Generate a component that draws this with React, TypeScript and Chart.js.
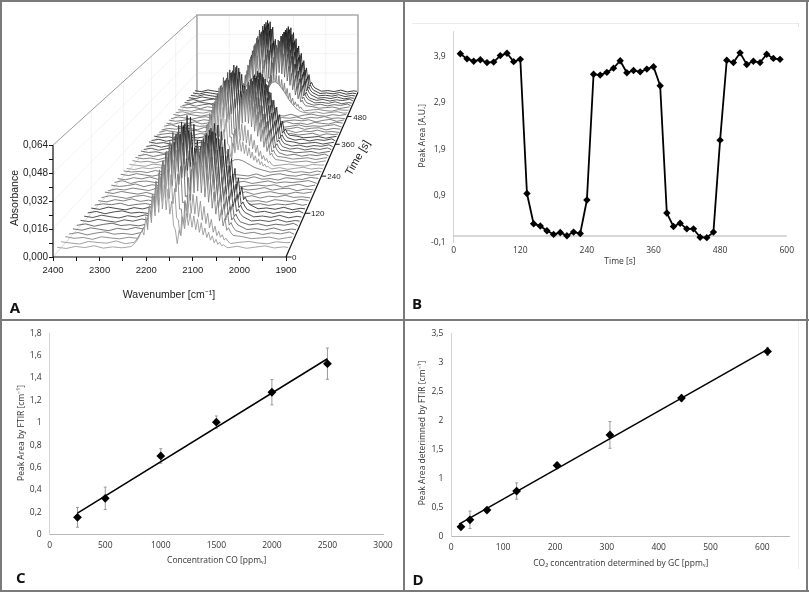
import React, { useEffect, useRef } from "react";
import { Chart, registerables } from "chart.js";
Chart.register(...registerables);

// ---------- Panel A: spectra (absorbance x 10^4) ----------
const wnLeft = [2400, 2380, 2360, 2340, 2320, 2300, 2280, 2260, 2240];
const wnRight = [2030, 2010, 1990, 1970, 1950, 1930, 1910, 1900];
const wnFlat = [2400, 2380, 2360, 2340, 2320, 2300, 2280, 2260, 2240, 2220, 2200, 2180, 2160, 2140, 2120, 2100, 2080, 2060, 2040, 2020, 2000, 1980, 1960, 1940, 1920, 1900];
const wnTeeth = [2216, 2212, 2208, 2204, 2200, 2196, 2192, 2188, 2184, 2180, 2176, 2172, 2168, 2164, 2160, 2156, 2152, 2148, 2144, 2140, 2136, 2132, 2128, 2124, 2120, 2116, 2112, 2108, 2104, 2100, 2096, 2092, 2088, 2084, 2080, 2076, 2072, 2068, 2064, 2060, 2056, 2052, 2048, 2044, 2040];
const wnFine = [...wnLeft, 2236, 2230, 2224, 2220, ...wnTeeth, 2036, ...wnRight];
const wnCoarse = [...wnLeft, 2226, 2214, 2204, 2194, 2184, 2174, 2164, 2154, 2148, 2143, 2138, 2130, 2120, 2110, 2100, 2090, 2080, 2070, 2060, 2050, 2040, ...wnRight];

const onA = [32, 24, 38, 29, 21, 35, 27, 40, 30, 60, 85, 120, 150,
  190, 170, 320, 200, 410, 255, 485, 315, 545, 355, 610, 385, 600, 375, 555, 335, 455, 225, 230, 70,
  280, 180, 430, 280, 530, 330, 560, 340, 550, 330, 510, 300, 460, 270, 400, 230, 340, 190, 280, 150, 220, 115, 165, 85, 100,
  75, 55, 28, 33, 25, 37, 22, 31, 27];
const onB = [27, 36, 22, 33, 40, 26, 31, 24, 36, 55, 80, 112, 140,
  180, 160, 305, 190, 390, 245, 460, 300, 515, 340, 575, 365, 570, 355, 525, 320, 430, 215, 215, 65,
  265, 170, 410, 265, 505, 315, 530, 325, 520, 315, 485, 285, 435, 255, 380, 220, 320, 180, 265, 140, 205, 110, 155, 80, 95,
  70, 48, 30, 37, 24, 34, 28, 39, 26];
const onC = [38, 28, 33, 22, 37, 30, 25, 34, 28, 50, 72, 100, 130,
  170, 150, 285, 180, 365, 225, 430, 280, 485, 315, 540, 340, 535, 335, 490, 300, 405, 200, 200, 60,
  250, 160, 385, 250, 475, 295, 500, 305, 490, 295, 455, 270, 410, 240, 355, 205, 300, 170, 250, 130, 195, 100, 145, 75, 90,
  65, 45, 38, 26, 30, 35, 23, 32, 36];
const front2 = [34, 27, 21, 36, 30, 26, 39, 23, 31, 45, 65, 90, 110,
  140, 110, 240, 150, 310, 195, 375, 245, 415, 270, 455, 290, 455, 285, 425, 255, 345, 175, 160, 55,
  180, 125, 260, 175, 310, 200, 310, 195, 300, 180, 270, 160, 240, 140, 200, 115, 165, 90, 125, 70, 95, 60, 75, 45, 55,
  37, 24, 31, 36, 27, 22, 34, 29, 30];
const front1 = [29, 22, 34, 27, 38, 24, 31, 26, 33, 42, 58, 80, 105,
  125, 100, 205, 130, 270, 170, 325, 210, 355, 230, 395, 250, 390, 245, 365, 220, 295, 155, 130, 50,
  125, 95, 195, 135, 225, 155, 225, 145, 210, 130, 190, 115, 170, 100, 140, 85, 115, 70, 95, 55, 75, 45, 58, 38, 44,
  34, 26, 35, 23, 30, 37, 25, 31, 28];

const p54 = [30, 37, 25, 33, 27, 38, 22, 31, 35, 45, 90, 170, 240, 285, 300, 280, 230, 150, 70, 140, 220, 265, 270, 250, 215, 175, 130, 95, 65, 45, 34, 27, 36, 24, 32, 38, 26, 30];
const p25 = [26, 34, 29, 38, 23, 31, 36, 25, 32, 40, 55, 85, 115, 135, 145, 135, 110, 80, 45, 75, 110, 130, 135, 125, 110, 90, 70, 55, 45, 38, 30, 35, 24, 33, 28, 37, 25, 31];
const p20 = [35, 28, 32, 24, 38, 27, 33, 22, 30, 35, 45, 70, 90, 105, 110, 105, 90, 65, 38, 65, 95, 110, 112, 105, 90, 75, 60, 50, 42, 35, 27, 33, 38, 25, 30, 22, 35, 28];
const p14 = [24, 33, 38, 26, 31, 22, 36, 29, 34, 33, 40, 55, 70, 80, 85, 80, 68, 50, 34, 50, 70, 82, 85, 78, 68, 58, 48, 42, 36, 32, 36, 25, 30, 38, 22, 34, 27, 33];

const flat1 = [30, 22, 36, 28, 41, 25, 33, 19, 35, 27, 40, 24, 31, 37, 22, 34, 28, 42, 26, 30, 20, 36, 29, 24, 38, 31];
const flat2 = [24, 37, 29, 20, 33, 39, 26, 34, 23, 38, 28, 31, 19, 35, 41, 25, 32, 27, 37, 22, 34, 29, 40, 26, 30, 23];
const flat3 = [36, 27, 40, 31, 23, 34, 20, 37, 29, 25, 33, 42, 28, 22, 36, 30, 24, 38, 21, 33, 39, 27, 23, 35, 28, 37];
const flat4 = [21, 32, 26, 38, 30, 22, 40, 28, 36, 24, 31, 20, 37, 29, 33, 23, 39, 26, 31, 41, 25, 34, 37, 21, 32, 27];
const flat5 = [33, 25, 31, 41, 24, 36, 29, 22, 38, 32, 21, 35, 27, 40, 26, 37, 22, 30, 34, 28, 36, 20, 31, 39, 24, 34];
const flat6 = [28, 39, 21, 34, 37, 27, 31, 38, 24, 30, 36, 26, 41, 23, 32, 28, 35, 21, 29, 38, 24, 31, 27, 33, 40, 22];

const traceTimes = [12, 24, 36, 48, 60, 72, 84, 96, 108, 120, 132, 144, 156, 168, 180, 192, 204, 216, 228, 240, 252, 264, 276, 288, 300, 312, 324, 336, 348, 360, 372, 384, 396, 408, 420, 432, 444, 456, 468, 480, 492, 504, 516, 528, 540, 552, 564, 576, 588];
const traceShapes = ["front1", "front2", "C", "B", "A", "B", "A", "A", "B", "A", "p25", "f1", "f2", "f3", "f4", "f5", "f6", "f1", "f3", "p20", "front1", "front2", "C", "C", "B", "C", "B", "B", "C", "B", "C", "p14", "f2", "f4", "f6", "f1", "f5", "f2", "f3", "p54", "front2", "C", "B", "A", "B", "A", "A", "A", "A"];
const traceGrays = ["#8e8e8e", "#888888", "#767676", "#646464", "#525252", "#424242", "#343434", "#262626", "#1e1e1e", "#181818", "#505050", "#5f5f5f", "#5f5f5f", "#5f5f5f", "#5f5f5f", "#5f5f5f", "#5f5f5f", "#5f5f5f", "#5f5f5f", "#666666", "#8e8e8e", "#888888", "#767676", "#646464", "#525252", "#444444", "#383838", "#2c2c2c", "#222222", "#1a1a1a", "#161616", "#5f5f5f", "#5f5f5f", "#5f5f5f", "#5f5f5f", "#5f5f5f", "#5f5f5f", "#5f5f5f", "#5f5f5f", "#777777", "#6e6e6e", "#5a5a5a", "#484848", "#363636", "#282828", "#1e1e1e", "#161616", "#101010", "#0c0c0c"];
const shapeTable: Record<string, [number[], number[]]> = {
  A: [wnFine, onA], B: [wnFine, onB], C: [wnFine, onC],
  front1: [wnFine, front1], front2: [wnFine, front2],
  p54: [wnCoarse, p54], p25: [wnCoarse, p25], p20: [wnCoarse, p20], p14: [wnCoarse, p14],
  f1: [wnFlat, flat1], f2: [wnFlat, flat2], f3: [wnFlat, flat3], f4: [wnFlat, flat4], f5: [wnFlat, flat5], f6: [wnFlat, flat6],
};
const aXTicks = [2400, 2350, 2300, 2250, 2200, 2150, 2100, 2050, 2000, 1950, 1900];
const aYTicks = [0, 0.008, 0.016, 0.024, 0.032, 0.04, 0.048, 0.056, 0.064];
const aTimeTicks = [0, 120, 240, 360, 480];
const aWallTimes = [120, 240, 360, 480];
const aWallLevels = [0.016, 0.032, 0.048];
const aWallWn = [2300, 2200, 2100, 2000];

// ---------- Panel B ----------
const bTime = [12, 24, 36, 48, 60, 72, 84, 96, 108, 120, 132, 144, 156, 168, 180, 192, 204, 216, 228, 240, 252, 264, 276, 288, 300, 312, 324, 336, 348, 360, 372, 384, 396, 408, 420, 432, 444, 456, 468, 480, 492, 504, 516, 528, 540, 552, 564, 576, 588];
const bArea = [3.96, 3.85, 3.8, 3.83, 3.77, 3.78, 3.92, 3.97, 3.79, 3.84, 0.95, 0.3, 0.25, 0.15, 0.07, 0.11, 0.04, 0.12, 0.09, 0.81, 3.52, 3.5, 3.56, 3.65, 3.81, 3.55, 3.6, 3.57, 3.63, 3.68, 3.27, 0.53, 0.24, 0.31, 0.19, 0.19, 0.01, 0.0, 0.12, 2.1, 3.82, 3.77, 3.98, 3.73, 3.8, 3.77, 3.95, 3.86, 3.84];
const bXTicks = [0, 120, 240, 360, 480, 600];
const bYTicks = [-0.1, 0.9, 1.9, 2.9, 3.9];

// ---------- Panel C ----------
const cConc = [250, 500, 1000, 1500, 2000, 2500];
const cArea = [0.155, 0.325, 0.703, 1.005, 1.272, 1.527];
const cErr = [0.088, 0.1, 0.065, 0.055, 0.113, 0.14];
const cFitX = [250, 2500];
const cFitY = [0.193, 1.571];
const cXTicks = [0, 500, 1000, 1500, 2000, 2500, 3000];
const cYTicks = [0, 0.2, 0.4, 0.6, 0.8, 1, 1.2, 1.4, 1.6, 1.8];

// ---------- Panel D ----------
const dConc = [18.6, 36, 68.8, 126, 204, 306, 444, 610];
const dArea = [0.17, 0.29, 0.457, 0.785, 1.225, 1.75, 2.383, 3.185];
const dErr = [0.03, 0.15, 0.04, 0.14, 0.05, 0.23, 0.05, 0.07];
const dFitX = [15, 610];
const dFitY = [0.215, 3.22];
const dXTicks = [0, 100, 200, 300, 400, 500, 600];
const dYTicks = [0, 0.5, 1, 1.5, 2, 2.5, 3, 3.5];

const comma = (v: number) => String(v).replace(".", ",");
const EXCEL_FONT = "'Open Sans'";
const TEXT = "#333333";

type Cap = { text: string; x: number; y: number; rot?: number; font: string; color: string; align?: CanvasTextAlign };
const capPlugin = (caps: Cap[]) => ({
  id: "caps",
  afterDraw(chart: any) {
    const c = chart.ctx;
    for (const t of caps) {
      c.save();
      c.translate(t.x, t.y);
      if (t.rot) c.rotate((t.rot * Math.PI) / 180);
      c.font = t.font;
      c.fillStyle = t.color;
      c.textAlign = t.align || "center";
      c.textBaseline = "middle";
      c.fillText(t.text, 0, 0);
      c.restore();
    }
  },
});

const errPlugin = (xs: number[], ys: number[], errs: number[]) => ({
  id: "errs",
  beforeDatasetsDraw(chart: any) {
    const c = chart.ctx, X = chart.scales.x, Y = chart.scales.y;
    c.save();
    c.strokeStyle = "#9a9a9a";
    c.lineWidth = 1;
    xs.forEach((x, i) => {
      const px = X.getPixelForValue(x);
      const lo = Y.getPixelForValue(ys[i] - errs[i]);
      const hi = Y.getPixelForValue(ys[i] + errs[i]);
      c.beginPath();
      c.moveTo(px, lo); c.lineTo(px, hi);
      c.moveTo(px - 1.5, lo); c.lineTo(px + 1.5, lo);
      c.moveTo(px - 1.5, hi); c.lineTo(px + 1.5, hi);
      c.stroke();
    });
    c.restore();
  },
});

type Frame = { left: number; right: number; top: number; bottom: number; w: number; h: number };

function excelOptions(f: Frame, xMin: number, xMax: number, yMin: number, yMax: number, xTicks: number[], yTicks: number[], xPad: number, yPad: number, bottomBorder: boolean): any {
  return {
    responsive: false,
    animation: false,
    events: [],
    layout: { autoPadding: false, padding: { top: f.top, right: f.w - f.right, left: 0, bottom: 0 } },
    plugins: { legend: { display: false }, tooltip: { enabled: false } },
    scales: {
      x: {
        type: "linear", min: xMin, max: xMax,
        afterFit: (s: any) => { s.height = f.h - f.bottom; },
        afterBuildTicks: (s: any) => { s.ticks = xTicks.map((value) => ({ value })); },
        grid: { drawOnChartArea: false, drawTicks: false },
        border: { display: bottomBorder, color: "#b8b8b8", width: 1 },
        ticks: { autoSkip: false, maxRotation: 0, padding: xPad, color: TEXT, font: { family: EXCEL_FONT, size: 8.5 }, callback: (v: number) => comma(v) },
      },
      y: {
        type: "linear", min: yMin, max: yMax,
        afterFit: (s: any) => { s.width = f.left; },
        afterBuildTicks: (s: any) => { s.ticks = yTicks.map((value) => ({ value })); },
        grid: { drawOnChartArea: false, drawTicks: false },
        border: { color: "#d4d4d4", width: 1 },
        ticks: { autoSkip: false, padding: yPad, color: TEXT, font: { family: EXCEL_FONT, size: 8.5 }, callback: (v: number) => comma(v) },
      },
    },
  };
}

const fScale = (t: number) => 1 / (1 + (0.447 * t) / 600);
const VP_WN = 1400, VP_ABS = 0.305;
const project = (wn: number, t: number, a: number) => {
  const f = fScale(t);
  return { x: VP_WN + (wn - VP_WN) * f, y: VP_ABS + (a - VP_ABS) * f };
};
const seg = (pts: { x: number; y: number }[], color: string, width: number) => ({
  data: pts, borderColor: color, borderWidth: width, pointRadius: 0, showLine: true, fill: false, clip: false,
});

function panelAConfig(): any {
  const H = 320, left = 53, bottom = 257;
  const traces = traceTimes.map((t, i) => {
    const [wn, abs] = shapeTable[traceShapes[i]];
    return {
      data: wn.map((w, k) => project(w, t, abs[k] / 10000)),
      showLine: true, pointRadius: 0, borderWidth: 0.8, borderColor: traceGrays[i],
      backgroundColor: "#ffffff", fill: "shape",
    };
  });
  const axes = [
    seg([project(2400, 0, 0), project(1900, 0, 0)], "#111", 1.2),
    seg([project(2400, 0, 0), project(2400, 0, 0.064)], "#111", 1.2),
    seg([project(1900, 0, 0), project(1900, 600, 0)], "#111", 1.2),
    ...aTimeTicks.map((t) => seg([project(1900, t, 0), project(1888, t, 0)], "#111", 1)),
  ];
  const walls = [
    seg([project(2400, 0, 0.064), project(2400, 600, 0.064)], "#9a9a9a", 1),
    seg([project(2400, 600, 0), project(2400, 600, 0.064), project(1900, 600, 0.064), project(1900, 600, 0)], "#aaaaaa", 1.6),
    seg([project(2400, 0, 0), project(2400, 600, 0)], "#cccccc", 0.8),
    ...aWallLevels.map((a) => seg([project(2400, 0, a), project(2400, 600, a), project(1900, 600, a)], "#efefef", 0.8)),
    ...aWallTimes.map((t) => seg([project(2400, t, 0), project(2400, t, 0.064)], "#efefef", 0.8)),
    ...aWallWn.map((w) => seg([project(w, 600, 0), project(w, 600, 0.064)], "#efefef", 0.8)),
  ];
  const arial = "'Liberation Sans'";
  const timeLabels = {
    id: "timeLabels",
    afterDraw(chart: any) {
      const c = chart.ctx, X = chart.scales.x, Y = chart.scales.y;
      c.save();
      c.font = `8px ${arial}`;
      c.fillStyle = "#222";
      c.textAlign = "left";
      c.textBaseline = "middle";
      aTimeTicks.forEach((t) => {
        const p = project(1900, t, 0);
        c.fillText(String(t), X.getPixelForValue(p.x) + 6, Y.getPixelForValue(p.y) + 1);
      });
      c.restore();
    },
  };
  return {
    type: "scatter",
    data: { datasets: [...axes, ...traces, ...walls] },
    plugins: [
      timeLabels,
      capPlugin([
        { text: "Wavenumber [cm⁻¹]", x: 169, y: 295, font: `10.5px ${arial}`, color: "#222" },
        { text: "Absorbance", x: 15, y: 198, rot: -90, font: `10.5px ${arial}`, color: "#222" },
        { text: "Time [s]", x: 358, y: 158, rot: -60, font: `11px ${arial}`, color: "#222" },
        { text: "A", x: 15, y: 309, font: "bold 15px 'Open Sans'", color: "#111" },
      ]),
    ],
    options: {
      responsive: false, animation: false, events: [],
      layout: { autoPadding: false, padding: { top: 0, right: 3, left: 0, bottom: 0 } },
      plugins: { legend: { display: false }, tooltip: { enabled: false } },
      scales: {
        x: {
          type: "linear", reverse: true, min: 2400 - (347 / 233) * 500, max: 2400,
          afterFit: (s: any) => { s.height = H - bottom; },
          afterBuildTicks: (s: any) => { s.ticks = aXTicks.map((value) => ({ value })); },
          grid: { drawOnChartArea: false, tickLength: 4, tickColor: "#111" },
          border: { display: false },
          ticks: { autoSkip: false, maxRotation: 0, padding: 4, color: "#222", font: { family: arial, size: 9.5 }, callback: (v: number) => (v % 100 === 0 ? String(v) : "") },
        },
        y: {
          type: "linear", min: 0, max: (257 / 115) * 0.064,
          afterFit: (s: any) => { s.width = left; },
          afterBuildTicks: (s: any) => { s.ticks = aYTicks.map((value) => ({ value })); },
          grid: { drawOnChartArea: false, tickLength: 4, tickColor: "#111" },
          border: { display: false },
          ticks: { autoSkip: false, padding: 1, color: "#222", font: { family: arial, size: 10 }, callback: (v: number, i: number) => (i % 2 === 0 ? v.toFixed(3).replace(".", ",") : "") },
        },
      },
    },
  };
}

function panelBConfig(): any {
  const f = { left: 49.7, right: 382.7, top: 31, bottom: 242.3, w: 405, h: 320 };
  const opt = excelOptions(f, 0, 600, -0.1, 4.45, bXTicks, bYTicks, 3, 8, false);
  return {
    type: "scatter",
    data: {
      datasets: [
        {
          data: bTime.map((x, i) => ({ x, y: bArea[i] })), showLine: true, borderColor: "#000", borderWidth: 1.8,
          pointStyle: "rectRot", pointRadius: 3.7, pointBackgroundColor: "#000", pointBorderColor: "#000", pointBorderWidth: 0, clip: false,
        },
        seg([{ x: 0, y: 0.035 }, { x: 600, y: 0.035 }], "#b0b0b0", 1),
      ],
    },
    plugins: [capPlugin([
      { text: "Peak Area [A.U.]", x: 19, y: 135.7, rot: -90, font: `8.5px ${EXCEL_FONT}`, color: TEXT },
      { text: "Time [s]", x: 216, y: 261.7, font: `8.5px ${EXCEL_FONT}`, color: TEXT },
      { text: "B", x: 13, y: 305, font: "bold 15px 'Open Sans'", color: "#111" },
    ])],
    options: opt,
  };
}

function calibConfig(f: Frame, xs: number[], ys: number[], errs: number[], fitX: number[], fitY: number[], xMax: number, yMax: number, xT: number[], yT: number[], caps: Cap[], xPad: number, yPad: number): any {
  return {
    type: "scatter",
    data: {
      datasets: [
        {
          data: xs.map((x, i) => ({ x, y: ys[i] })), pointStyle: "rectRot", pointRadius: 4.4,
          pointBackgroundColor: "#000", pointBorderColor: "#000", pointBorderWidth: 0, clip: false,
        },
        seg(fitX.map((x, i) => ({ x, y: fitY[i] })), "#000", 1.5),
      ],
    },
    plugins: [errPlugin(xs, ys, errs), capPlugin(caps)],
    options: excelOptions(f, 0, xMax, 0, yMax, xT, yT, xPad, yPad, true),
  };
}

const panels = [
  { key: "A", left: 0, top: 0, w: 403, h: 320, cfg: panelAConfig },
  { key: "B", left: 404, top: 0, w: 405, h: 320, cfg: panelBConfig },
  {
    key: "C", left: 0, top: 320, w: 404, h: 272,
    cfg: () => calibConfig({ left: 49.7, right: 383, top: 10, bottom: 214.7, w: 404, h: 272 }, cConc, cArea, cErr, cFitX, cFitY, 3000, 1.8, cXTicks, cYTicks, [
      { text: "Peak Area by FTIR [cm⁻¹]", x: 22, y: 113, rot: -90, font: `8.5px ${EXCEL_FONT}`, color: TEXT },
      { text: "Concentration CO [ppmᵥ]", x: 216.7, y: 241, font: `8.5px ${EXCEL_FONT}`, color: TEXT },
      { text: "C", x: 20.7, y: 259, font: "bold 15px 'Open Sans'", color: "#111" },
    ], 6, 8),
  },
  {
    key: "D", left: 404, top: 320, w: 405, h: 272,
    cfg: () => calibConfig({ left: 47.3, right: 385.7, top: 10, bottom: 216.7, w: 405, h: 272 }, dConc, dArea, dErr, dFitX, dFitY, 652.7, 3.5, dXTicks, dYTicks, [
      { text: "Peak Area deterimned by FTIR [cm⁻¹]", x: 19, y: 113, rot: -90, font: `8.5px ${EXCEL_FONT}`, color: TEXT },
      { text: "CO₂ concentration determined by GC [ppmᵥ]", x: 216.7, y: 243.3, font: `8.5px ${EXCEL_FONT}`, color: TEXT },
      { text: "D", x: 14, y: 261, font: "bold 15px 'Open Sans'", color: "#111" },
    ], 6, 8),
  },
];

function Panel({ p }: { p: (typeof panels)[number] }) {
  const ref = useRef<HTMLCanvasElement>(null);
  useEffect(() => {
    const chart = new Chart(ref.current as HTMLCanvasElement, p.cfg());
    return () => chart.destroy();
  }, [p]);
  return (
    <canvas
      ref={ref}
      width={p.w}
      height={p.h}
      style={{ position: "absolute", left: p.left, top: p.top, width: p.w, height: p.h, filter: "blur(0.45px)" }}
    />
  );
}

const rule = (left: number, top: number, width: number, height: number, background = "#7a7a7a") => (
  <div style={{ position: "absolute", left, top, width, height, background }} />
);

export default function App() {
  return (
    <div style={{ position: "fixed", left: 0, top: 0, width: 809, height: 592, background: "#fff", overflow: "hidden" }}>
      {panels.map((p) => <Panel key={p.key} p={p} />)}
      {rule(412, 23, 387, 1, "#ececec")}
      {rule(798, 23, 1, 4, "#e0e0e0")}
      {rule(798, 321, 1, 248, "#eeeeee")}
      {rule(0, 0, 809, 2)}
      {rule(0, 0, 2, 592)}
      {rule(0, 590, 809, 2)}
      {rule(806, 0, 2, 592)}
      {rule(403, 0, 2, 592)}
      {rule(0, 319, 809, 2)}
    </div>
  );
}
